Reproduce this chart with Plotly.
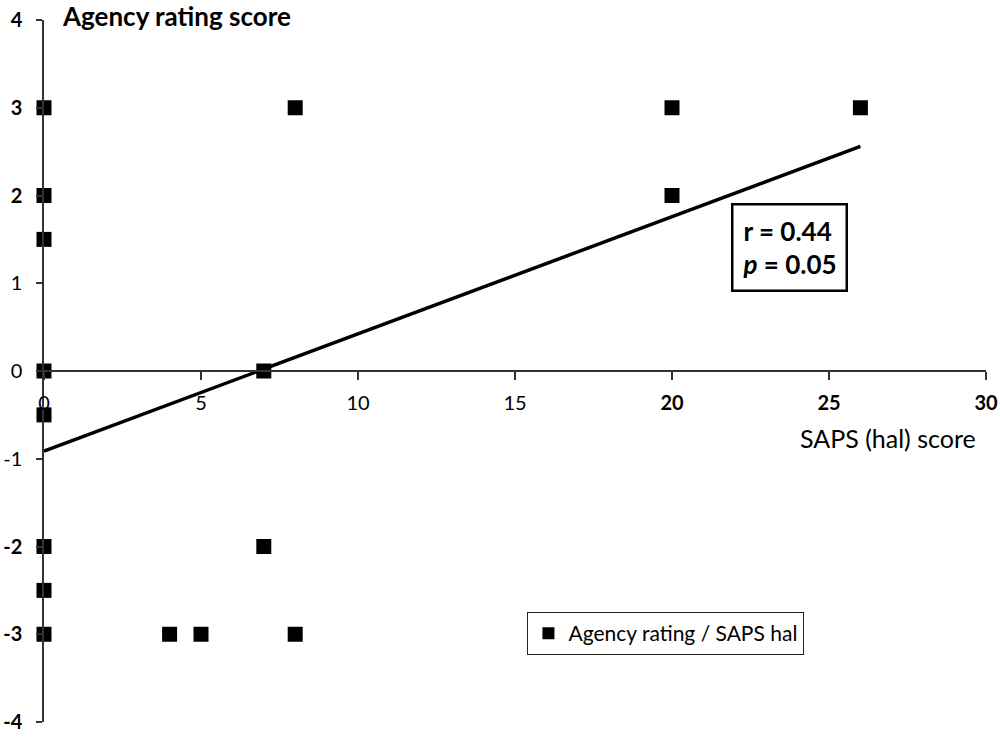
import numpy as np
import plotly.graph_objects as go

# SAPS (hal) score vs agency rating score, one point per subject
saps_hal = [0, 0, 0, 0, 0, 0, 0, 0, 4, 5, 7, 7, 8, 8, 20, 20, 26]
agency = [3, 2, 1.5, 0, -0.5, -2, -2.5, -3, -3, -3, 0, -2, 3, -3, 3, 2, 3]

x_ticks = [0, 5, 10, 15, 20, 25, 30]
y_ticks = [4, 3, 2, 1, 0, -1, -2, -3, -4]
# the source image shows some tick labels heavier than others
x_bold = [20, 25, 30]
y_bold = [4, 3, 2, -2, -3, -4]

r_text = "r = 0.44"
p_text = "0.05"

FONT = "Lato"


def tick_labels(vals, bold):
    return [f"<b>{v}</b>" if v in bold else str(v) for v in vals]


# linear fit over the observed x range
slope, intercept = np.polyfit(saps_hal, agency, 1)
fit_x = [min(saps_hal), max(saps_hal)]
fit_y = [slope * v + intercept for v in fit_x]

fig = go.Figure()

fig.add_trace(go.Scatter(
    x=fit_x, y=fit_y, mode="lines",
    line=dict(color="black", width=3.5),
    showlegend=False, hoverinfo="skip",
))

fig.add_trace(go.Scatter(
    x=saps_hal, y=agency, mode="markers",
    name="Agency rating / SAPS hal",
    marker=dict(symbol="square", size=15, color="black"),
    cliponaxis=False,
))

fig.update_layout(
    width=1000, height=738,
    margin=dict(l=44, r=14, t=20, b=16),
    plot_bgcolor="white", paper_bgcolor="white",
    font=dict(family=FONT, color="black", size=20),
    legend=dict(
        x=0.513, y=0.157, xanchor="left", yanchor="top",
        bordercolor="#222222", borderwidth=1.2, bgcolor="white",
        font=dict(size=21, family=FONT),
        itemsizing="constant",
    ),
    annotations=[
        dict(text="<b>Agency rating score</b>", xref="paper", yref="paper",
             x=0.017, y=1.006, xanchor="left", yanchor="middle",
             showarrow=False, font=dict(size=26, family=FONT)),
        dict(text="SAPS (hal) score", xref="paper", yref="paper",
             x=0.991, y=0.405, xanchor="right", yanchor="middle",
             showarrow=False, font=dict(size=25, family=FONT)),
        dict(text=f"<b>{r_text}</b><br><b><i>p</i> = {p_text}</b>",
             xref="paper", yref="paper", x=0.729, y=0.739,
             xanchor="left", yanchor="top", align="left",
             showarrow=False, font=dict(size=26, family=FONT),
             bordercolor="black", borderwidth=2.5, borderpad=9,
             bgcolor="white"),
    ],
)

fig.update_xaxes(
    range=[0, 30], anchor="free", position=0.5, automargin=False,
    tickvals=x_ticks, ticktext=tick_labels(x_ticks, x_bold),
    showline=True, linecolor="#333333", linewidth=1.5,
    ticks="outside", ticklen=8, tickcolor="#333333", tickwidth=1.5,
    ticklabelstandoff=6, ticklabeloverflow="allow",
    showgrid=False, zeroline=False,
)
fig.update_yaxes(
    range=[-4, 4], automargin=False,
    tickvals=y_ticks, ticktext=tick_labels(y_ticks, y_bold),
    showline=True, linecolor="#333333", linewidth=1.5,
    ticks="outside", ticklen=6, tickcolor="#333333", tickwidth=1.5,
    ticklabelstandoff=10, ticklabeloverflow="allow",
    showgrid=False, zeroline=False,
)

# drop the default page margin so the figure sits at the window corner
fig.write_html("out.html", config={"displayModeBar": False},
               post_script="document.body.style.margin = '0';")
